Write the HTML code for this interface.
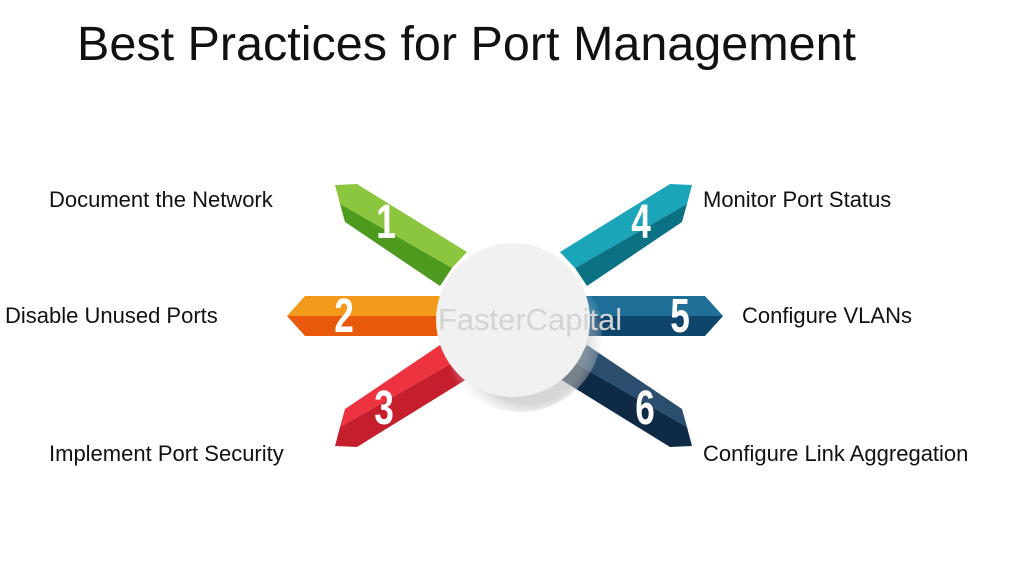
<!DOCTYPE html>
<html><head><style>
body{margin:0;width:1024px;height:576px;background:#fff;overflow:hidden;font-family:"Liberation Sans",sans-serif;position:relative}
.t{position:absolute;font-size:22px;color:#111;white-space:nowrap}
</style></head><body>
<div style="position:absolute;left:77px;top:16px;font-size:48.5px;color:#111">Best Practices for Port Management</div>
<div class="t" style="left:49px;top:187px">Document the Network</div>
<div class="t" style="left:5px;top:303px">Disable Unused Ports</div>
<div class="t" style="left:49px;top:441px">Implement Port Security</div>
<div class="t" style="left:703px;top:187px">Monitor Port Status</div>
<div class="t" style="left:742px;top:303px">Configure VLANs</div>
<div class="t" style="left:703px;top:441px">Configure Link Aggregation</div>
<svg width="1024" height="576" style="position:absolute;left:0;top:0">
<defs><radialGradient id="sh" cx="0.55" cy="0.6" r="0.5"><stop offset="0.7" stop-color="#bbb" stop-opacity="0.6"/><stop offset="1" stop-color="#fff" stop-opacity="0"/></radialGradient></defs>
<g>
<polygon points="335,185 357,184 467,252 452,268 340,204" fill="#8cc63f"/>
<polygon points="340,204 452,268 440,286 345,222" fill="#4e9a1e"/>
</g>
<g transform="translate(1027,0) scale(-1,1)">
<polygon points="335,185 357,184 467,252 452,268 340,204" fill="#1aa5b8"/>
<polygon points="340,204 452,268 440,286 345,222" fill="#0b7285"/>
</g>
<g transform="translate(0,631) scale(1,-1)">
<polygon points="335,185 357,184 467,252 452,268 340,204" fill="#c51f2e"/>
<polygon points="340,204 452,268 440,286 345,222" fill="#ee3340"/>
</g>
<g transform="translate(1027,631) scale(-1,-1)">
<polygon points="335,185 357,184 467,252 452,268 340,204" fill="#0f2a45"/>
<polygon points="340,204 452,268 440,286 345,222" fill="#2b4e6e"/>
</g>
<polygon points="287,316 305,296 445,296 445,316" fill="#f39a1c"/>
<polygon points="287,316 305,336 445,336 445,316" fill="#e8590c"/>
<polygon points="580,296 705,296 723,316 580,316" fill="#1f6f98"/>
<polygon points="580,316 723,316 705,336 580,336" fill="#0d456c"/>
<circle cx="520" cy="330" r="82" fill="url(#sh)"/>
<circle cx="513" cy="320" r="77" fill="#f1f1f1"/>
<text x="530" y="330" font-size="31" fill="#d4d4d4" text-anchor="middle" font-family="Liberation Sans">FasterCapital</text>
<g font-family="Liberation Sans Narrow, Liberation Sans" font-weight="bold" font-size="44" fill="#fff" text-anchor="middle">
<text x="386" y="238" transform="translate(386,238) scale(0.8,1.1) translate(-386,-238)">1</text>
<text x="344" y="332" transform="translate(344,332) scale(0.8,1.1) translate(-344,-332)">2</text>
<text x="384" y="424" transform="translate(384,424) scale(0.8,1.1) translate(-384,-424)">3</text>
<text x="641" y="238" transform="translate(641,238) scale(0.8,1.1) translate(-641,-238)">4</text>
<text x="680" y="332" transform="translate(680,332) scale(0.8,1.1) translate(-680,-332)">5</text>
<text x="645" y="424" transform="translate(645,424) scale(0.8,1.1) translate(-645,-424)">6</text>
</g>
</svg>
</body></html>
